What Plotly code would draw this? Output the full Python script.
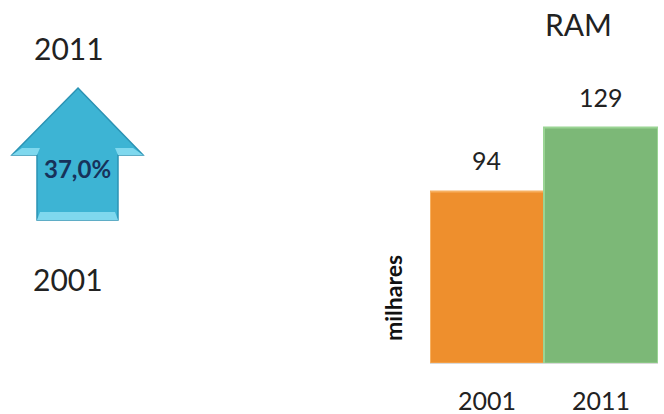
import plotly.graph_objects as go

# Data
years = ["2001", "2011"]
values = [94, 129]
bar_colors = ["#EE8F2D", "#7CB877"]
bar_edges = ["#F7B060", "#9AD494"]
title_text = "RAM"
y_label = "milhares"
growth_label = "37,0%"
left_top_label = "2011"
left_bottom_label = "2001"

W, H = 664, 414
def px(x):
    return x / W
def py(y):
    return 1 - y / H

fig = go.Figure()
fig.add_trace(go.Bar(
    x=years, y=values,
    marker=dict(color=bar_colors, line=dict(color=bar_edges, width=2)),
    width=1.0,
    hoverinfo="skip",
))

# value labels above bars
for i, v in enumerate(values):
    fig.add_annotation(x=i, y=v, text=str(v), showarrow=False,
                       xanchor="center", yanchor="bottom", yshift=14,
                       font=dict(family="Lato", size=25, color="#222222"))

def poly(points):
    return "M " + " L ".join(f"{px(x):.5f},{py(y):.5f}" for x, y in points) + " Z"

# arrow shape (decorative)
pts = [(78, 88), (143, 155), (118, 155), (118, 220), (37, 220), (37, 155), (12, 155)]
fig.add_shape(type="path", xref="paper", yref="paper", path=poly(pts),
              fillcolor="#3DB4D4", line=dict(color="#2B93B4", width=1.5), layer="above")
# bevel highlights
for p in [[(40, 212), (115, 212), (118, 220), (37, 220)],
          [(12, 155), (37, 155), (40, 148), (22, 148)],
          [(118, 155), (143, 155), (133, 148), (115, 148)]]:
    fig.add_shape(type="path", xref="paper", yref="paper", path=poly(p),
                  fillcolor="#7FD8EE", line=dict(width=0), layer="above")

def label(x, y, text, size, color="#222222", angle=0):
    fig.add_annotation(xref="paper", yref="paper", x=px(x), y=py(y), text=text,
                       xanchor="center", yanchor="middle", textangle=angle,
                       showarrow=False, font=dict(family="Lato", size=size, color=color))

label(77, 168, f"<b>{growth_label}</b>", 24, "#17325A")
label(69, 48, left_top_label, 30)
label(68, 279, left_bottom_label, 30)
label(578, 24, title_text, 30)
label(393, 298, f"<b>{y_label}</b>", 23, "#111111", -90)

fig.update_layout(
    width=W, height=H,
    margin=dict(l=0, r=0, t=0, b=0),
    paper_bgcolor="white", plot_bgcolor="white",
    showlegend=False, bargap=0,
    xaxis=dict(domain=[px(430), px(658)], range=[-0.5, 1.5], type="category",
               automargin=False,
               showgrid=False, zeroline=False, showline=True, linecolor="#D9D9D9", linewidth=1,
               ticks="", tickfont=dict(family="Lato", size=25, color="#222222"),
               ticklabelstandoff=16),
    yaxis=dict(domain=[51 / H, (H - 107.5) / H], range=[0, 140], automargin=False,
               showgrid=False, zeroline=False, showticklabels=False, showline=False),
)

fig.write_html("out.html", post_script="document.body.style.margin='0px';",
               config={"displayModeBar": False})
